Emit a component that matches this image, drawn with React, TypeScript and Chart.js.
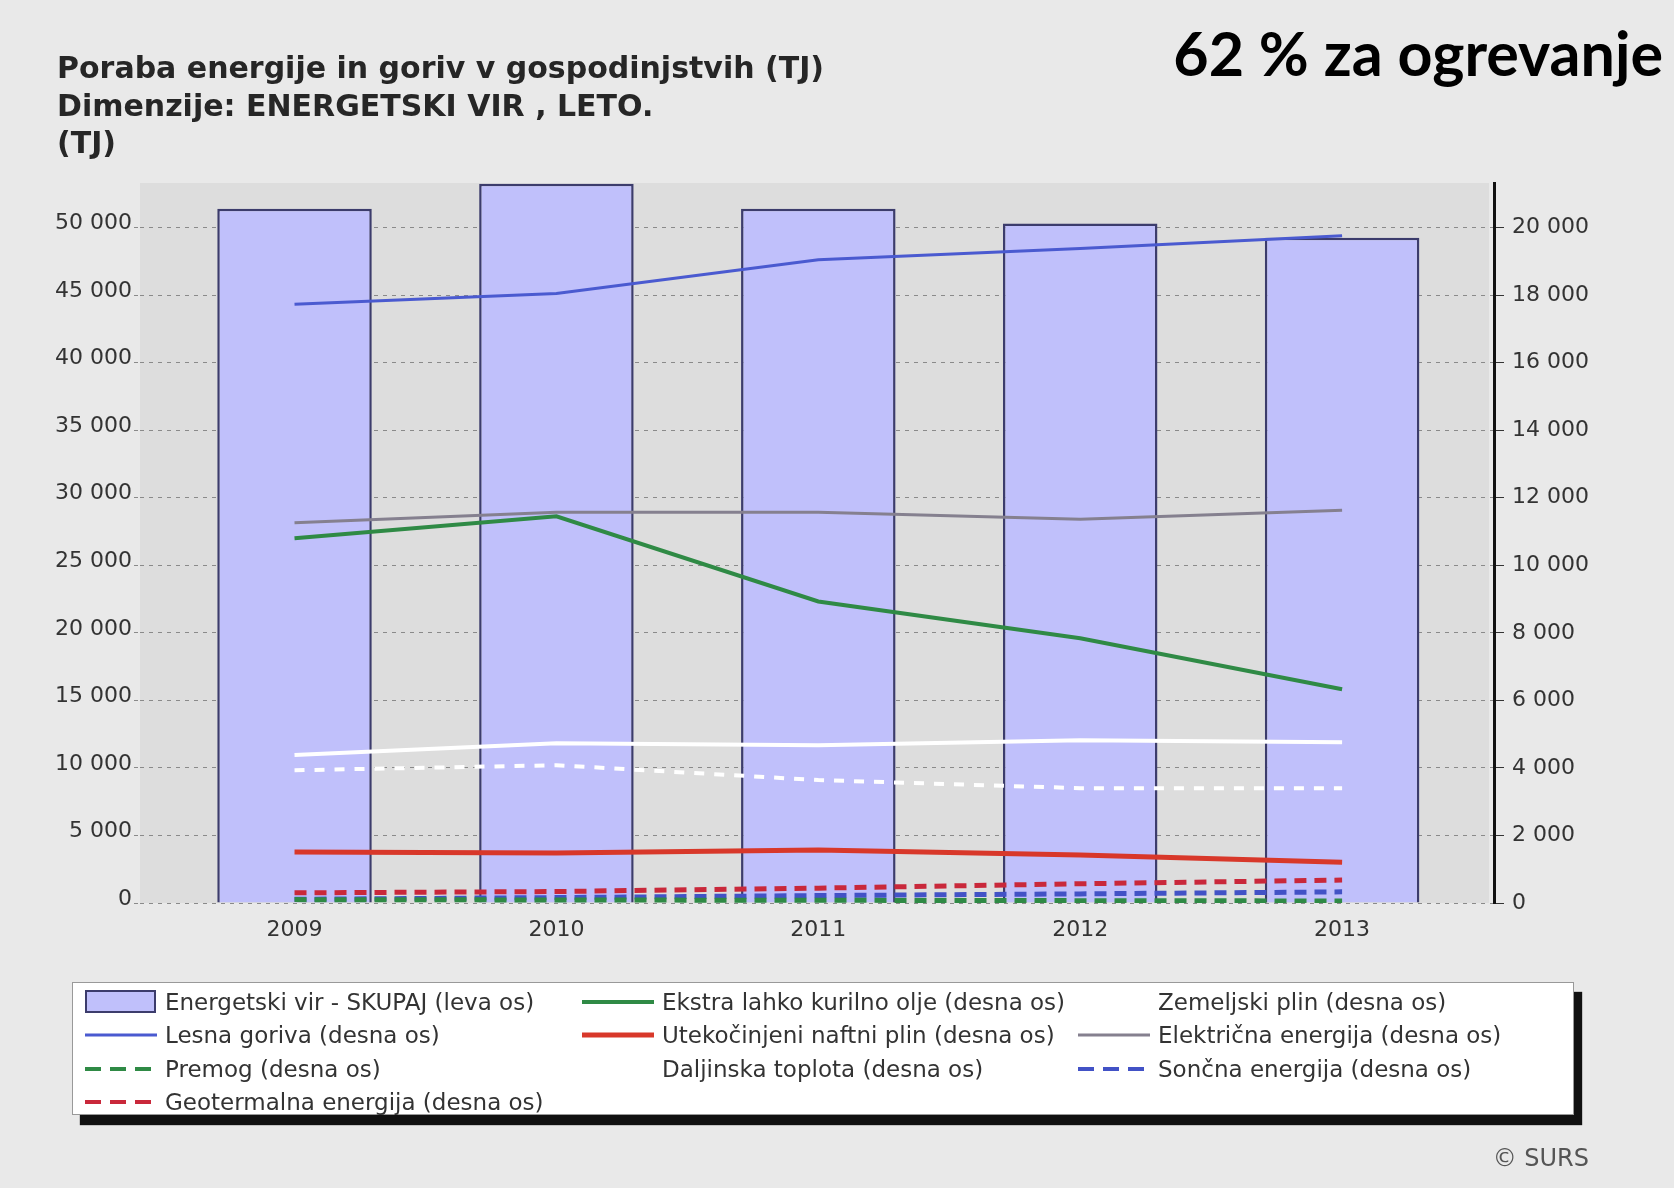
import React, { useEffect, useRef } from 'react';
import { Chart, registerables } from 'chart.js';

Chart.register(...registerables);

// ---------------- data ----------------
const YEARS = [2009, 2010, 2011, 2012, 2013];
const TOTAL = [51400, 53250, 51400, 50300, 49250]; // left axis
const EKSTRA = [10800, 11450, 8930, 7840, 6330];
const ZEMELJSKI = [4380, 4730, 4670, 4820, 4760];
const LESNA = [17730, 18050, 19050, 19380, 19760];
const UTEKOCINJENI = [1510, 1480, 1570, 1420, 1210];
const ELEKTRICNA = [11260, 11570, 11570, 11360, 11630];
const PREMOG = [100, 90, 80, 70, 60];
const DALJINSKA = [3930, 4080, 3640, 3400, 3400];
const SONCNA = [110, 160, 220, 270, 330];
const GEOTERMALNA = [300, 340, 440, 570, 680];

const LEFT_MAX = 53300;
const LEFT_TICKS = [0, 5000, 10000, 15000, 20000, 25000, 30000, 35000, 40000, 45000, 50000];
const RIGHT_MAX = 21320;
const RIGHT_TICKS = [0, 2000, 4000, 6000, 8000, 10000, 12000, 14000, 16000, 18000, 20000];

const TITLE_LINES = [
  'Poraba energije in goriv v gospodinjstvih (TJ)',
  'Dimenzije: ENERGETSKI VIR , LETO.',
  '(TJ)',
];
const HEADLINE = '62 % za ogrevanje';
const COPYRIGHT = '© SURS';

// ---------------- styles ----------------
const FONT = "'DejaVu Sans', sans-serif";
const BAR_FILL = '#c0c0fb';
const BAR_BORDER = '#3c3c6c';

type Series = {
  label: string;
  data: number[];
  kind: 'bar' | 'line';
  color?: string;
  width?: number;
  dash?: number[];
};

const SERIES: Series[] = [
  { label: 'Energetski vir - SKUPAJ (leva os)', data: TOTAL, kind: 'bar' },
  { label: 'Ekstra lahko kurilno olje (desna os)', data: EKSTRA, kind: 'line', color: '#2f8a45', width: 4 },
  { label: 'Zemeljski plin (desna os)', data: ZEMELJSKI, kind: 'line', color: '#ffffff', width: 4 },
  { label: 'Lesna goriva (desna os)', data: LESNA, kind: 'line', color: '#4a5ad0', width: 3 },
  { label: 'Utekočinjeni naftni plin (desna os)', data: UTEKOCINJENI, kind: 'line', color: '#d8382a', width: 5 },
  { label: 'Električna energija (desna os)', data: ELEKTRICNA, kind: 'line', color: '#85808f', width: 3 },
  { label: 'Premog (desna os)', data: PREMOG, kind: 'line', color: '#2f8a45', width: 5, dash: [12, 8] },
  { label: 'Daljinska toplota (desna os)', data: DALJINSKA, kind: 'line', color: '#ffffff', width: 4, dash: [10, 10] },
  { label: 'Sončna energija (desna os)', data: SONCNA, kind: 'line', color: '#4252c6', width: 5, dash: [12, 8] },
  { label: 'Geotermalna energija (desna os)', data: GEOTERMALNA, kind: 'line', color: '#c9283a', width: 5, dash: [12, 8] },
];

const fmt = (v: number) => String(Math.round(v)).replace(/\B(?=(\d{3})+(?!\d))/g, ' ');

const plotBg = {
  id: 'plotBg',
  beforeDraw(chart: any) {
    const { ctx, chartArea } = chart;
    ctx.save();
    ctx.fillStyle = '#dddddd';
    ctx.fillRect(chartArea.left, chartArea.top, chartArea.right - chartArea.left - 5, chartArea.bottom - chartArea.top);
    ctx.restore();
  },
};

function Swatch({ s }: { s: Series }) {
  if (s.kind === 'bar') {
    return (
      <svg width={72} height={26} style={{ display: 'block' }}>
        <rect x={1} y={2} width={69} height={21} fill={BAR_FILL} stroke={BAR_BORDER} strokeWidth={2} />
      </svg>
    );
  }
  return (
    <svg width={72} height={26} style={{ display: 'block' }}>
      <line
        x1={0}
        y1={13}
        x2={72}
        y2={13}
        stroke={s.color}
        strokeWidth={s.dash ? 4 : Math.max(3, s.width || 3)}
        strokeDasharray={s.dash ? '16 9' : undefined}
      />
    </svg>
  );
}

export default function App() {
  const ref = useRef<HTMLCanvasElement | null>(null);

  useEffect(() => {
    if (!ref.current) return;
    const datasets: any[] = SERIES.map((s) => {
      const pts = YEARS.map((yr, i) => ({ x: yr, y: s.data[i] }));
      if (s.kind === 'bar') {
        return {
          type: 'bar',
          label: s.label,
          data: pts,
          yAxisID: 'y',
          backgroundColor: BAR_FILL,
          borderColor: BAR_BORDER,
          borderWidth: 2.5,
          barPercentage: 0.59,
          categoryPercentage: 1,
          order: 10,
        };
      }
      return {
        type: 'line',
        label: s.label,
        data: pts,
        yAxisID: 'y1',
        borderColor: s.color,
        backgroundColor: s.color,
        borderWidth: s.width,
        borderDash: s.dash || [],
        pointRadius: 0,
        tension: 0,
        fill: false,
        order: 0,
      };
    });

    const tickFont = { family: FONT, size: 22 };
    const chart = new Chart(ref.current, {
      type: 'bar',
      data: { datasets },
      options: {
        animation: false,
        responsive: false,
        layout: { padding: { left: 0, right: 0, top: 183, bottom: 0 } },
        plugins: {
          legend: { display: false },
          tooltip: { enabled: false },
          title: { display: false },
        },
        scales: {
          x: {
            type: 'linear',
            offset: false,
            min: 2008.41,
            max: 2013.58,
            grid: { display: false, drawTicks: false, offset: false },
            border: { display: false },
            ticks: {
              padding: 14,
              color: '#333',
              font: tickFont,
              callback: (v: any) => String(v),
            },
            afterBuildTicks: (s: any) => {
              s.ticks = YEARS.map((v) => ({ value: v }));
            },
            afterFit: (s: any) => {
              s.height = 285;
            },
          },
          y: {
            position: 'left',
            min: 0,
            max: LEFT_MAX,
            ticks: {
              padding: 2,
              labelOffset: -4,
              color: '#333',
              font: tickFont,
              callback: (v: any) => fmt(v),
            },
            afterBuildTicks: (s: any) => {
              s.ticks = LEFT_TICKS.map((v) => ({ value: v }));
            },
            grid: {
              color: '#8a8a8a',
              lineWidth: 1,
              tickLength: 6,
              tickColor: '#8a8a8a',
              tickBorderDash: [4, 5],
              borderDash: [4, 5],
            } as any,
            border: { display: false, dash: [4, 5] },
            afterFit: (s: any) => {
              s.width = 140;
            },
          },
          y1: {
            position: 'right',
            min: 0,
            max: RIGHT_MAX,
            ticks: {
              padding: 8,
              color: '#333',
              font: tickFont,
              callback: (v: any) => fmt(v),
            },
            afterBuildTicks: (s: any) => {
              s.ticks = RIGHT_TICKS.map((v) => ({ value: v }));
            },
            grid: { drawOnChartArea: false, tickLength: 10, tickColor: '#333', lineWidth: 1 },
            border: { display: true, color: '#111', width: 3 },
            afterFit: (s: any) => {
              s.width = 180;
            },
          },
        },
      } as any,
      plugins: [plotBg],
    });
    return () => chart.destroy();
  }, []);

  const colSw = [12, 509, 1005];
  const colTx = [92, 589, 1085];
  const rowY = [19, 52, 86, 119];

  return (
    <div
      style={{
        position: 'absolute',
        left: 0,
        top: 0,
        width: 1674,
        height: 1188,
        background: '#e9e9e9',
        overflow: 'hidden',
        fontFamily: FONT,
      }}
    >
      <canvas ref={ref} width={1674} height={1188} style={{ position: 'absolute', left: 0, top: 0 }} />
      <div
        style={{
          position: 'absolute',
          left: 57,
          top: 49,
          fontFamily: FONT,
          fontWeight: 700,
          fontSize: 30,
          lineHeight: '37.5px',
          color: '#262626',
          whiteSpace: 'pre',
        }}
      >
        {TITLE_LINES.map((t, i) => (
          <div key={i}>{t}</div>
        ))}
      </div>
      <div
        style={{
          position: 'absolute',
          right: 11,
          top: 22,
          fontFamily: 'Lato, sans-serif',
          fontWeight: 700,
          fontSize: 61,
          lineHeight: '62px',
          color: '#000',
          whiteSpace: 'pre',
        }}
      >
        {HEADLINE}
      </div>
      <div
        style={{
          position: 'absolute',
          left: 72,
          top: 982,
          width: 1502,
          height: 133,
          background: '#fff',
          border: '1px solid #999',
          boxSizing: 'border-box',
          boxShadow: '8px 10px 1px #111',
        }}
      >
        {SERIES.map((s, i) => {
          const row = Math.floor(i / 3);
          const col = i % 3;
          return (
            <React.Fragment key={i}>
              <div style={{ position: 'absolute', left: colSw[col], top: rowY[row] - 13 }}>
                <Swatch s={s} />
              </div>
              <div
                style={{
                  position: 'absolute',
                  left: colTx[col],
                  top: rowY[row] - 16,
                  height: 32,
                  lineHeight: '32px',
                  fontSize: 23,
                  color: '#333',
                  whiteSpace: 'pre',
                }}
              >
                {s.label}
              </div>
            </React.Fragment>
          );
        })}
      </div>
      <div
        style={{
          position: 'absolute',
          right: 85,
          top: 1144,
          fontSize: 24,
          lineHeight: '28px',
          color: '#555',
          whiteSpace: 'pre',
        }}
      >
        {COPYRIGHT}
      </div>
    </div>
  );
}
